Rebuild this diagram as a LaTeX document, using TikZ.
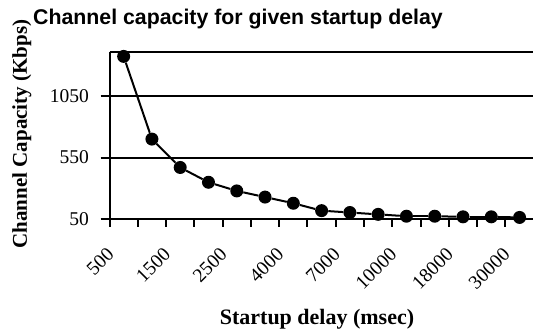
\documentclass[tikz,border=0pt]{standalone}
\usepackage{fontspec}
\setmainfont{Liberation Serif}
\newfontfamily\arialfont{Liberation Sans}
\usetikzlibrary{positioning}
\definecolor{ink}{HTML}{000000}

\tikzset{
  axisline/.style={ink, line width=2pt},
  dataline/.style={ink, line width=2pt},
  datadot/.style={circle, fill=ink, inner sep=0pt, minimum size=13pt},
  ticklabel/.style={text=ink, font=\fontsize{19.5}{20}\selectfont, inner sep=0pt},
  axistitle/.style={text=ink, font=\fontsize{21}{22}\selectfont\bfseries, inner sep=0pt},
}

\begin{document}
\begin{tikzpicture}[x=1pt, y=-1pt]

\useasboundingbox (0,0) rectangle (533,334);

% Title
\node[text=ink, font=\arialfont\fontsize{21.3}{22}\selectfont\bfseries, anchor=base west, inner sep=0pt]
  (title) at (33,24.5) {Channel capacity for given startup delay};

% Coordinate mapping (pixels, y downward):
% category k centre at x = 109.5 + 28.28*(k-0.5)
% value v at y = 219.3 - (v-50)*0.1234

% Plot frame and grid
\draw[axisline] (109.5,51.7) -- (533,51.7);
\foreach \v in {550,1050} {
  \draw[axisline] (100.7,{219.3-(\v-50)*0.1234}) -- (533,{219.3-(\v-50)*0.1234});
}
\draw[axisline] (100.7,219.3) -- (533,219.3);
\draw[axisline] (109.5,51.7) -- (109.5,226.5);

% Category ticks
\foreach \k in {1,...,14} {
  \draw[axisline] ({109.5+28.28*\k},219.3) -- ({109.5+28.28*\k},226.5);
}

% Y tick labels
\foreach \v in {50,550,1050} {
  \node[ticklabel, anchor=east] (yl\v) at (89,{219.3-(\v-50)*0.1234}) {\v};
}

% X tick labels (every other category)
\foreach \lab [count=\i] in {500,1500,2500,4000,7000,10000,18000,30000} {
  \pgfmathsetmacro\cx{109.5+28.28*(2*\i-1.5)}
  \node[ticklabel, rotate=45, anchor=base east] (xl\i) at ({\cx-8.5},255.7) {\lab};
}

% Data points
\foreach \v [count=\k] in {1370,700,470,350,280,230,180,120,105,90,75,75,70,70,65} {
  \node[datadot] (p\k) at ({109.5+28.28*(\k-0.5)},{219.3-(\v-50)*0.1234}) {};
}
\foreach \k [remember=\k as \j (initially 1)] in {2,...,15} {
  \draw[dataline] (p\j) -- (p\k);
}

% Axis titles
\node[axistitle, rotate=90, anchor=base] (ytitle) at (27,134) {Channel Capacity (Kbps)};
\node[axistitle, font=\fontsize{22}{23}\selectfont\bfseries, anchor=base] (xtitle) at (317,324.5) {Startup delay (msec)};

\end{tikzpicture}
\end{document}
